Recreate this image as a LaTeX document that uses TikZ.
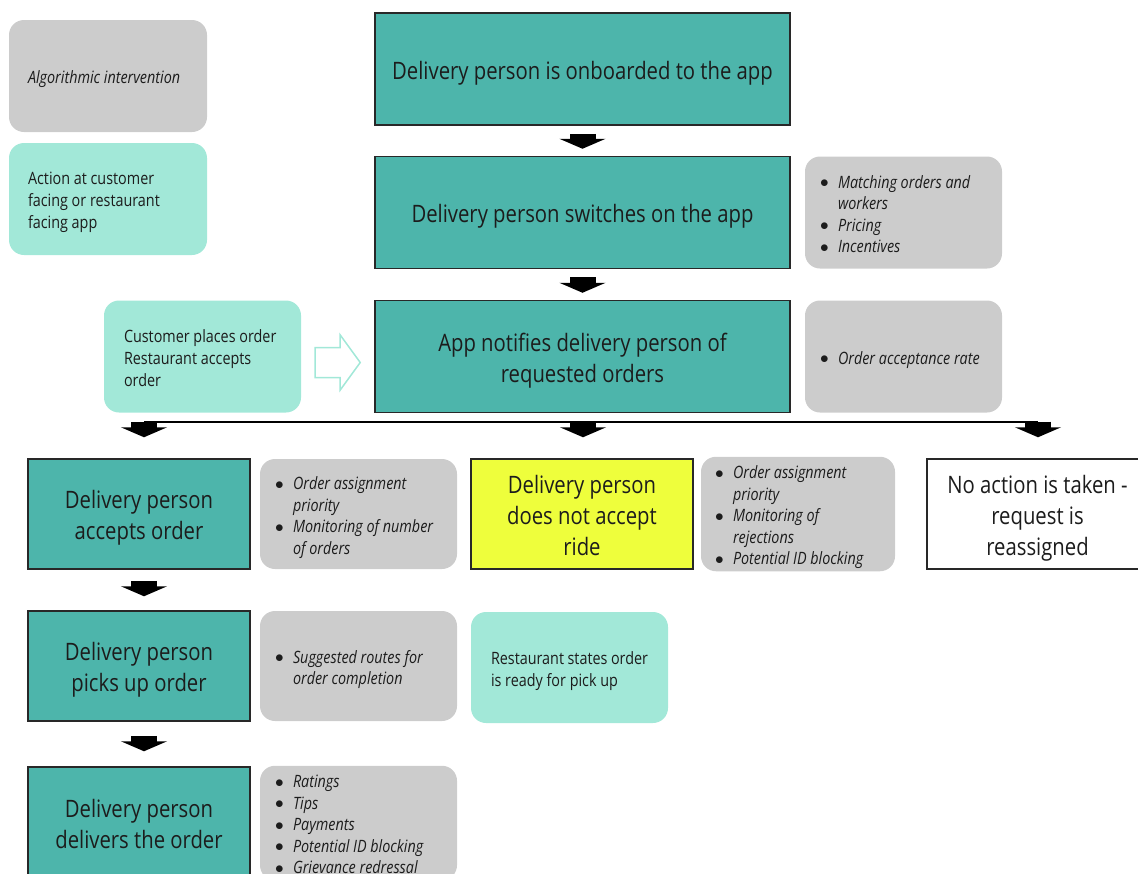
\documentclass[tikz,border=0pt]{standalone}
\usepackage{fontspec}
\setmainfont{Open Sans}[FakeStretch=0.845]
\usetikzlibrary{arrows.meta,calc,positioning}

\definecolor{mainteal}{RGB}{77,181,171}
\definecolor{liteteal}{RGB}{162,232,216}
\definecolor{algogray}{RGB}{204,204,204}
\definecolor{noyellow}{RGB}{238,254,60}
\definecolor{edgeline}{RGB}{40,40,40}
\definecolor{inktext}{RGB}{28,28,28}

\newcommand{\bl}{\makebox[18pt][l]{\raisebox{0.5pt}{$\bullet$}}}
\newcommand{\nb}{\hspace*{18pt}}
\newcommand{\nohyph}{\hyphenpenalty 10000\relax}

\tikzset{
  stepbox/.style={draw=edgeline, line width=1.5pt, fill=mainteal, align=flush center,
    text width=411pt, minimum height=112pt, inner sep=2pt, text=inktext,
    font={\fontsize{24}{31}\selectfont\nohyph},
    execute at begin node={\rule{0pt}{27pt}},
    execute at end node={\rule[-7pt]{0pt}{7pt}}},
  smallstep/.style={stepbox, text width=218pt, minimum height=110pt},
  algobox/.style={fill=algogray, rounded corners=15pt, align=flush left, text=inktext,
    text width=167pt, inner xsep=15pt, inner ysep=2pt, minimum height=112pt,
    font={\fontsize{17}{21.5}\selectfont\itshape\nohyph},
    execute at begin node={\rule{0pt}{20pt}},
    execute at end node={\rule[-4.5pt]{0pt}{4.5pt}}},
  sidebox/.style={algobox, fill=liteteal, text width=158pt, inner xsep=20pt,
    font={\fontsize{17}{22}\selectfont\nohyph}},
  blockarrow/.style={line width=26pt, -{Triangle[width=46pt,length=10pt]}},
  hollowarrow/.style={draw=liteteal, line width=1.5pt, fill=white, line join=miter}
}

\begin{document}
\begin{tikzpicture}[x=1pt,y=-1pt]
    \path[use as bounding box, clip] (0,0) rectangle (1138,873);
    \node[algobox, text width=160pt, inner xsep=19pt] (keyalgo) at (108,76) {Algorithmic intervention};
    \node[sidebox, text width=160pt, inner xsep=19pt] (keyapp) at (108,199) {Action at customer\\facing or restaurant\\facing app};

    \node[stepbox] (onboard) at (582.5,69) {Delivery person is onboarded to the app};
    \node[stepbox] (switchon) at (582.5,212.5) {Delivery person switches on the app};
    \node[stepbox] (notify) at (582.5,356.5) {App notifies delivery person of\\requested orders};
    \node[algobox] (switchalgo) at (903.5,212.5) {\bl Matching orders and\\\nb workers\\\bl Pricing\\\bl Incentives};
    \node[algobox] (notifyalgo) at (903.5,356.5) {\bl Order acceptance rate};
    \node[sidebox, text width=157pt] (custorder) at (202.5,356.5) {Customer places order\\Restaurant accepts\\order};

    \coordinate (custmid) at ($(custorder.east)!0.5!(notify.west)+(0,6)$);
    \draw[hollowarrow] (custmid) ++(-22.5,-15) -- ++(25,0) -- ++(0,-12.5)
      -- ++(20,27.5) -- ++(-20,27.5) -- ++(0,-12.5) -- ++(-25,0) -- cycle;

    \node[smallstep] (accept) at (139,514) {Delivery person\\accepts order};
    \node[algobox, minimum height=110pt] (acceptalgo) at (358.5,514) {\bl Order assignment\\\nb priority\\\bl Monitoring of number\\\nb of orders};
    \node[smallstep, fill=noyellow] (reject) at (582,514) {Delivery person\\does not accept\\ride};
    \node[algobox, text width=166pt, inner xsep=14pt, minimum height=110pt] (rejectalgo) at (798,514) {\bl Order assignment\\\nb priority\\\bl Monitoring of\\\nb rejections\\\bl Potential ID blocking};
    \node[smallstep, fill=white, text width=217pt] (noaction) at (1037.5,514) {No action is taken -\\request is\\reassigned};

    \node[smallstep] (pickup) at (139,666) {Delivery person\\picks up order};
    \node[algobox, minimum height=110pt] (pickupalgo) at (358.5,666) {\bl Suggested routes for\\\nb order completion};
    \node[sidebox, text width=157pt, minimum height=111pt] (ready) at (569.5,667.5) {Restaurant states order\\is ready for pick up};

    \node[smallstep, minimum height=112pt] (deliver) at (139,823) {Delivery person\\delivers the order};
    \node[algobox] (deliveralgo) at (358.5,823) {\bl Ratings\\\bl Tips\\\bl Payments\\\bl Potential ID blocking\\\bl Grievance redressal};

    \draw[blockarrow, shorten <=8pt, shorten >=7pt] (onboard) -- (switchon);
    \draw[blockarrow, shorten <=8pt, shorten >=7pt] (switchon) -- (notify);

    \coordinate (splitl) at (144,421.5);
    \coordinate (splitm) at (583,421.5);
    \coordinate (splitr) at (1038,421.5);
    \draw[line width=2pt] (splitl) -- (splitr);
    \foreach \p/\b in {splitl/accept,splitm/reject,splitr/noaction}
      \draw[blockarrow, shorten >=21pt] (\p) -- (\p |- \b.north);

    \draw[blockarrow, shorten <=11pt, shorten >=14pt] ([xshift=5pt]accept.south) -- ([xshift=5pt]pickup.north);
    \draw[blockarrow, shorten <=14pt, shorten >=15pt] ([xshift=5pt]pickup.south) -- ([xshift=5pt]deliver.north);
\end{tikzpicture}
\end{document}
